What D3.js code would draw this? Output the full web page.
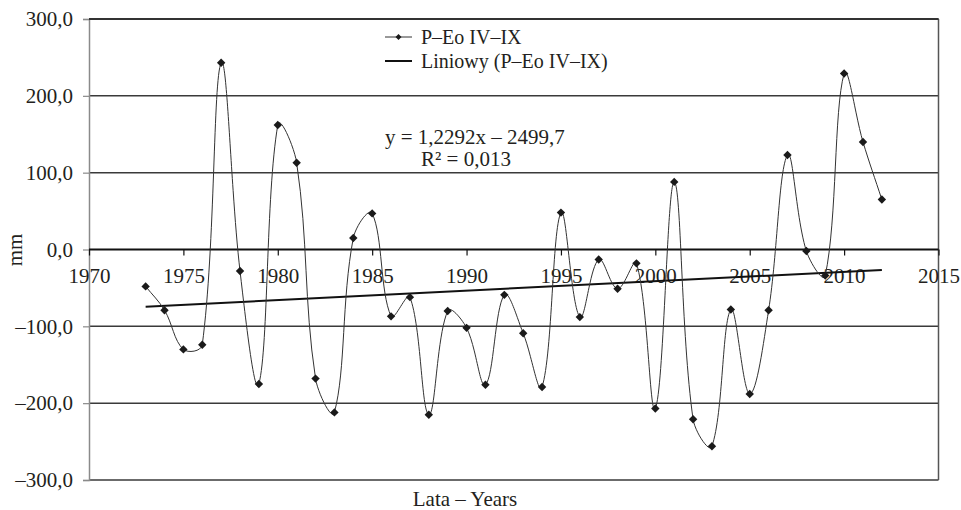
<!DOCTYPE html>
<html>
<head>
<meta charset="utf-8">
<script src="https://cdn.jsdelivr.net/npm/d3@7"></script>
<style>
  html, body { margin: 0; padding: 0; background: #fff; }
</style>
</head>
<body>
<svg id="chart" width="961" height="510"></svg>
<script>
// ---- data ----
const years = [1973,1974,1975,1976,1977,1978,1979,1980,1981,1982,
               1983,1984,1985,1986,1987,1988,1989,1990,1991,1992,
               1993,1994,1995,1996,1997,1998,1999,2000,2001,2002,
               2003,2004,2005,2006,2007,2008,2009,2010,2011,2012];
const values = [-48,-79,-130,-124,243,-28,-175,162,113,-168,
                -212,15,47,-87,-62,-215,-80,-102,-176,-59,
                -109,-179,48,-88,-13,-51,-18,-207,88,-221,
                -256,-78,-188,-79,123,-2,-34,229,140,65];
const yTicks = [-300,-200,-100,0,100,200,300];
const xTicks = [1970,1975,1980,1985,1990,1995,2000,2005,2010,2015];
const trendSlope = 1.2292;
const trendIntercept = -2499.7;
const seriesName = "P–Eo IV–IX";
const trendName = "Liniowy (P–Eo IV–IX)";
const eqLine1 = "y = 1,2292x – 2499,7";
const eqLine2 = "R² = 0,013";
const yTitle = "mm";
const xTitle = "Lata – Years";

// ---- layout ----
const svg = d3.select("#chart");
const L = 89, R = 938.5, T = 19, B = 480;
const x = d3.scaleLinear().domain([1970, 2015]).range([L, R]);
const y = d3.scaleLinear().domain([-300, 300]).range([B, T]);
const fmt = v => d3.format(".1f")(v).replace(".", ",").replace("-", "–").replace("−", "–");
const FONT = '"Liberation Serif", serif';
const FS = 21;
const TXT = "#231f20";

// gridlines
svg.append("g").selectAll("line").data(yTicks.filter(d => d !== 0 && d !== -300))
  .join("line")
  .attr("x1", L).attr("x2", R)
  .attr("y1", d => y(d)).attr("y2", d => y(d))
  .attr("stroke", "#3a3a3a").attr("stroke-width", 1.5);
svg.append("line").attr("x1", L).attr("x2", R).attr("y1", y(-300)).attr("y2", y(-300))
  .attr("stroke", "#3a3a3a").attr("stroke-width", 1.5);
svg.append("line").attr("x1", R).attr("x2", R).attr("y1", T).attr("y2", B)
  .attr("stroke", "#555").attr("stroke-width", 1.5);

// y axis
const yAxis = d3.axisLeft(y).tickValues(yTicks).tickFormat(fmt).tickSize(6).tickPadding(10);
const gy = svg.append("g").attr("transform", `translate(${L},0)`).call(yAxis);
gy.select(".domain").attr("stroke", "#8a8a8a").attr("stroke-width", 1.5);
gy.selectAll(".tick line").attr("stroke", "#8a8a8a").attr("stroke-width", 1.2);
gy.selectAll(".tick text").style("font-family", FONT).style("font-size", FS + "px").attr("fill", TXT);

// x axis at zero
const xAxis = d3.axisBottom(x).tickValues(xTicks).tickFormat(d3.format("d")).tickSize(6).tickPadding(13);
const gx = svg.append("g").attr("transform", `translate(0,${y(0)})`).call(xAxis);
gx.select(".domain").attr("d", `M${L},0H${R}`).attr("stroke", "#111").attr("stroke-width", 2.2);
gx.selectAll(".tick line").attr("stroke", "#111").attr("stroke-width", 1.2);
gx.selectAll(".tick text").style("font-family", FONT).style("font-size", FS + "px").attr("fill", TXT);

svg.append("line").attr("x1", L).attr("x2", R).attr("y1", T).attr("y2", T)
  .attr("stroke", "#333").attr("stroke-width", 1.8);

// trend line
const tx0 = years[0], tx1 = years[years.length - 1];
svg.append("line")
  .attr("x1", x(tx0)).attr("y1", y(trendSlope * tx0 + trendIntercept))
  .attr("x2", x(tx1)).attr("y2", y(trendSlope * tx1 + trendIntercept))
  .attr("stroke", "#111").attr("stroke-width", 2);

// series smooth line: Catmull-Rom style tangents weighted by segment lengths
const P = years.map((yr, i) => [x(yr), y(values[i])]);
const dist = (a, b) => Math.hypot(b[0] - a[0], b[1] - a[1]);
const SM = 2.7;
function ctrl(i, seg) {
  const a = P[Math.max(0, i - 1)], b = P[Math.min(P.length - 1, i + 1)];
  const dPrev = i > 0 ? dist(P[i - 1], P[i]) : 0;
  const dNext = i < P.length - 1 ? dist(P[i], P[i + 1]) : 0;
  const f = seg / (SM * (dPrev + dNext || 1));
  return [(b[0] - a[0]) * f, (b[1] - a[1]) * f];
}
const path = d3.path();
path.moveTo(P[0][0], P[0][1]);
for (let i = 0; i < P.length - 1; i++) {
  const p0 = P[i], p1 = P[i + 1];
  const seg = dist(p0, p1);
  const c0 = ctrl(i, seg), c1 = ctrl(i + 1, seg);
  path.bezierCurveTo(p0[0] + c0[0], p0[1] + c0[1],
                     p1[0] - c1[0], p1[1] - c1[1],
                     p1[0], p1[1]);
}
svg.append("path").attr("d", path.toString()).attr("fill", "none")
  .attr("stroke", "#333").attr("stroke-width", 1);

// markers
const diamond = "M0,-4.2L4.2,0L0,4.2L-4.2,0Z";
svg.append("g").selectAll("path").data(years.map((yr, i) => [yr, values[i]])).join("path")
  .attr("d", diamond)
  .attr("transform", d => `translate(${x(d[0])},${y(d[1])})`)
  .attr("fill", "#1a1a1a");

function label(xp, yp, str, anchor, size) {
  return svg.append("text").attr("x", xp).attr("y", yp)
    .attr("text-anchor", anchor || "start")
    .style("font-family", FONT).style("font-size", (size || FS) + "px").attr("fill", TXT).text(str);
}

// legend
svg.append("line").attr("x1", 385).attr("x2", 412).attr("y1", 37).attr("y2", 37)
  .attr("stroke", "#333").attr("stroke-width", 1);
svg.append("path").attr("d", "M0,-3L3,0L0,3L-3,0Z").attr("transform", "translate(398.5,37)").attr("fill", "#1a1a1a");
label(421, 44, seriesName, "start", 20);
svg.append("line").attr("x1", 385).attr("x2", 412).attr("y1", 61).attr("y2", 61)
  .attr("stroke", "#111").attr("stroke-width", 2);
label(421, 68, trendName, "start", 20);

// equation
label(385, 144, eqLine1);
label(421, 166, eqLine2);

// axis titles
svg.append("text").attr("transform", "translate(22,250) rotate(-90)")
  .attr("text-anchor", "middle").style("font-family", FONT).style("font-size", FS + "px")
  .attr("fill", TXT).text(yTitle);
label(465, 506, xTitle, "middle");
</script>
</body>
</html>
